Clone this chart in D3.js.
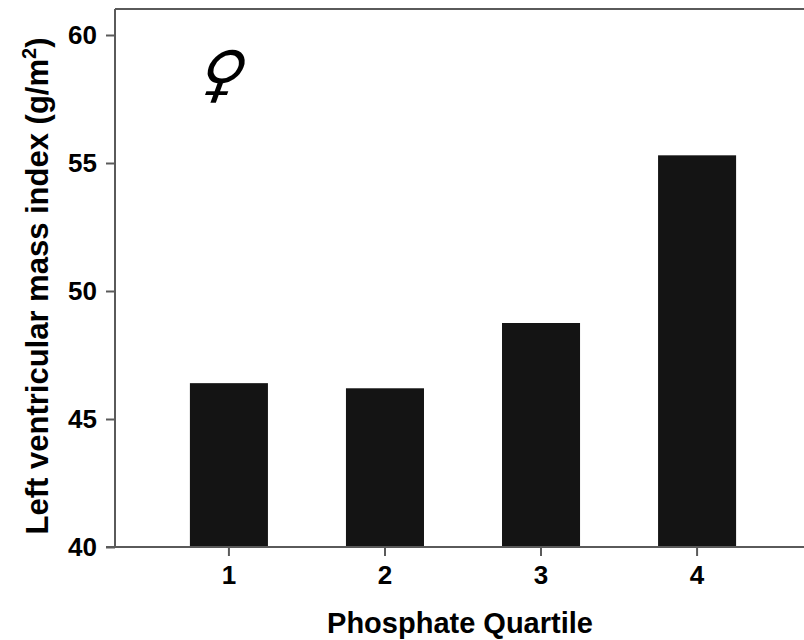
<!DOCTYPE html>
<html>
<head>
<meta charset="utf-8">
<script src="https://cdn.jsdelivr.net/npm/d3@7"></script>
<style>
  body { margin: 0; background: #fff; }
  svg { display: block; font-family: "Liberation Sans", Arial, sans-serif; }
</style>
</head>
<body>
<div class="chart"></div>
<script>
const quartiles = ['1', '2', '3', '4'];
const lvmi = [46.4, 46.2, 48.75, 55.3];
const yTicks = [40, 45, 50, 55, 60];

const W = 804, H = 640;
const margin = { left: 115, top: 9, bottom: 547 };
const axisColor = '#5a5a5a';

const svg = d3.select('.chart')
  .append('svg')
    .attr('width', W)
    .attr('height', H);

const x = d3.scaleBand()
  .domain(quartiles)
  .range([margin.left, 811])
  .paddingInner(0.5)
  .paddingOuter(0.48);

const y = d3.scaleLinear()
  .domain([40, 60])
  .range([margin.bottom, 35]);

// top frame line
svg.append('line')
  .attr('x1', margin.left).attr('x2', W)
  .attr('y1', margin.top).attr('y2', margin.top)
  .attr('stroke', axisColor).attr('stroke-width', 2);

svg.selectAll('.bar')
  .data(lvmi)
  .enter()
  .append('rect')
    .attr('class', 'bar')
    .attr('x', (d, i) => x(quartiles[i]))
    .attr('y', d => y(d))
    .attr('width', x.bandwidth())
    .attr('height', d => y(40) - y(d))
    .attr('fill', '#141414');

const yAxis = svg.append('g')
  .attr('transform', `translate(${margin.left},0)`)
  .call(d3.axisLeft(y).tickValues(yTicks).tickSize(9).tickPadding(9));
yAxis.select('.domain').remove();
yAxis.append('line')
  .attr('x1', 0).attr('x2', 0)
  .attr('y1', margin.top).attr('y2', margin.bottom)
  .attr('stroke', axisColor).attr('stroke-width', 2);

const xAxis = svg.append('g')
  .attr('transform', `translate(0,${margin.bottom})`)
  .call(d3.axisBottom(x).tickSize(9).tickPadding(10));
xAxis.select('.domain').remove();
xAxis.append('line')
  .attr('x1', margin.left - 9).attr('x2', W)
  .attr('y1', 0).attr('y2', 0)
  .attr('stroke', axisColor).attr('stroke-width', 2);

svg.selectAll('.tick line').attr('stroke', axisColor).attr('stroke-width', 2);
svg.selectAll('.tick text')
  .attr('font-size', 26).attr('font-weight', 'bold').attr('fill', '#000')
  .attr('font-family', '"Liberation Sans", Arial, sans-serif');

// axis titles
svg.append('text')
  .attr('x', 460).attr('y', 633)
  .attr('text-anchor', 'middle')
  .attr('font-size', 29).attr('font-weight', 'bold')
  .text('Phosphate Quartile');

const yt = svg.append('text')
  .attr('transform', `translate(48,286) rotate(-90)`)
  .attr('text-anchor', 'middle')
  .attr('font-size', 31).attr('font-weight', 'bold');
yt.append('tspan').text('Left ventricular mass index (g/m');
yt.append('tspan').attr('font-size', 20).attr('dy', -12).text('2');
yt.append('tspan').attr('dy', 12).text(')');

// female symbol
svg.append('g')
  .attr('transform', 'translate(216,95) skewX(-20)')
  .append('text')
    .attr('text-anchor', 'middle')
    .attr('font-size', 62)
    .attr('font-family', '"DejaVu Sans", sans-serif')
    .text('\u2640');
</script>
</body>
</html>
